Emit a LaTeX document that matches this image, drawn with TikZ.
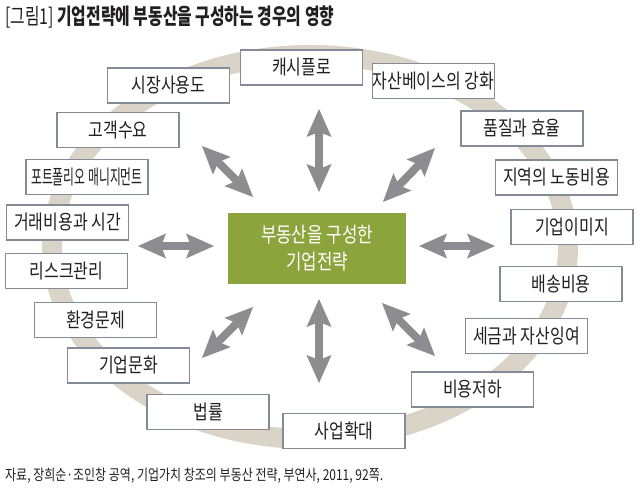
\documentclass[tikz,border=0pt]{standalone}
\usepackage{fontspec}
\usetikzlibrary{arrows.meta}
\newfontfamily\krbox[FakeStretch=0.8]{Noto Sans CJK KR}
\newfontfamily\krtitle[FakeStretch=0.72]{Noto Sans CJK KR}
\newfontfamily\krfoot[FakeStretch=0.8]{Noto Sans CJK KR}
\definecolor{ringc}{HTML}{DAD3C7}
\definecolor{arrc}{HTML}{8C8C91}
\definecolor{boxc}{HTML}{848B96}
\definecolor{txtc}{HTML}{231F20}
\definecolor{greenc}{HTML}{8BA53C}
\tikzset{
  itembox/.style={draw=boxc, line width=1.3pt, fill=white, minimum width=122pt, minimum height=35pt, inner sep=0pt, text=txtc, font=\krbox\fontsize{20}{22}\selectfont},
  corebox/.style={fill=greenc, minimum width=178pt, minimum height=71pt, inner sep=0pt, text=white, align=center, font=\krbox\fontsize{21}{27}\selectfont},
  bigarrow/.style={line width=8pt, draw=arrc, {Stealth[length=28pt,width=25pt,inset=5pt,line width=0pt]}-{Stealth[length=28pt,width=25pt,inset=5pt,line width=0pt]}},
}
\begin{document}
\begin{tikzpicture}[x=1pt,y=-1pt]
\useasboundingbox[fill=white] (0,0) rectangle (640,494);
% ring
\draw[ringc, line width=20pt] (310,247) ellipse [x radius=258pt, y radius=192pt];
% title and source
\node[anchor=base west, inner sep=0pt, text=txtc, font=\krtitle\fontsize{22}{24}\selectfont] (title) at (5,25) {[그림1] \bfseries 기업전략에 부동산을 구성하는 경우의 영향};
\node[anchor=base west, inner sep=0pt, text=txtc, font=\krfoot\fontsize{15}{18}\selectfont] (src) at (5,480) {자료, 장희순·조인창 공역, 기업가치 창조의 부동산 전략, 부연사, 2011, 92쪽.};
% arrow end coordinates
\coordinate (t1) at (319,109); \coordinate (t2) at (319,192);
\coordinate (b1) at (319,299); \coordinate (b2) at (319,383);
\coordinate (l1) at (138,246); \coordinate (l2) at (214,246);
\coordinate (r1) at (419,246); \coordinate (r2) at (495,246);
\coordinate (ul1) at (202,146); \coordinate (ul2) at (253,197);
\coordinate (ur1) at (435,148); \coordinate (ur2) at (383,202);
\coordinate (ll1) at (253,307); \coordinate (ll2) at (202,358);
\coordinate (lr1) at (382,303); \coordinate (lr2) at (435,356);
\draw[bigarrow] (t1) -- (t2);
\draw[bigarrow] (b1) -- (b2);
\draw[bigarrow] (l1) -- (l2);
\draw[bigarrow] (r1) -- (r2);
\draw[bigarrow] (ul1) -- (ul2);
\draw[bigarrow] (ur1) -- (ur2);
\draw[bigarrow] (ll1) -- (ll2);
\draw[bigarrow] (lr1) -- (lr2);
% center
\node[corebox] (core) at (317,248.5) {부동산을 구성한\\기업전략};
% boxes
\node[itembox] (n1) at (301.5,67.5) {캐시플로};
\node[itembox] (n2) at (433.5,81) {자산베이스의 강화};
\node[itembox] (n3) at (522,128.5) {품질과 효율};
\node[itembox] (n4) at (556.5,177.5) {지역의 노동비용};
\node[itembox] (n5) at (572,227) {기업이미지};
\node[itembox] (n6) at (561,284) {배송비용};
\node[itembox] (n7) at (526.5,336) {세금과 자산잉여};
\node[itembox] (n8) at (472.5,389.5) {비용저하};
\node[itembox] (n9) at (344,431) {사업확대};
\node[itembox] (n10) at (208,412) {법률};
\node[itembox] (n11) at (128.5,365.5) {기업문화};
\node[itembox] (n12) at (95.5,320) {환경문제};
\node[itembox] (n13) at (66.5,271) {리스크관리};
\node[itembox] (n14) at (67.5,222.5) {거래비용과 시간};
\node[itembox] (n15) at (87,177) {\scalebox{0.74}[1]{포트폴리오 매니지먼트}};
\node[itembox] (n16) at (118,130) {고객수요};
\node[itembox] (n17) at (168.5,85.5) {시장사용도};
\end{tikzpicture}
\end{document}
